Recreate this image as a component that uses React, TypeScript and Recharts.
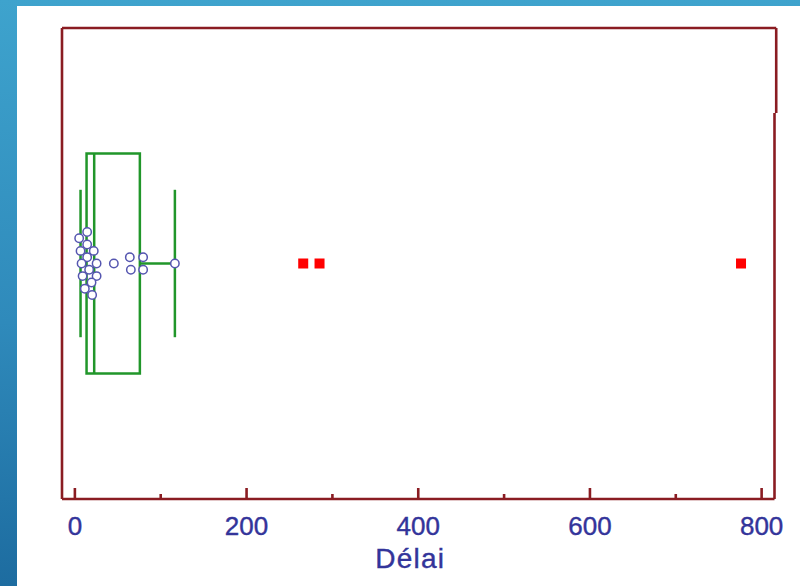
import React from 'react';
import {
  ScatterChart,
  Scatter,
  XAxis,
  YAxis,
  ReferenceLine,
  ReferenceArea,
} from 'recharts';

// Observed delays (one circle each) and their swarm lane (vertical stacking slot)
const delays = [14.3, 5, 14.3, 6.6, 22, 14.3, 7.8, 25.3, 16.6, 9, 25.3, 19.4, 11.6, 20.1, 45.4, 64, 65.2, 79.5, 79.5, 116.5];
const lanes = [-5, -4, -3, -2, -2, -1, 0, 0, 1, 2, 2, 3, 4, 5, 0, -1, 1, -1, 1, 0];

// Far outliers drawn as red squares
const outliers = [266, 285, 776];

// Box-and-whisker summary
const whiskerLow = 6.6;
const quartile1 = 13.6;
const median = 22.5;
const quartile3 = 75.7;
const whiskerHigh = 116.5;

// Axis ticks: labelled every 200, minor marks every 100
const xTicks = [0, 100, 200, 300, 400, 500, 600, 700, 800];
const xDomain = [-15, 815];

const FRAME = '#8a1c22';
const GREEN = '#21962a';
const LABEL = '#33349a';
const FONT = '"Liberation Sans", Arial, Helvetica, sans-serif';

const LANE = 0.0268; // vertical spacing of swarm lanes in y units
const BOX_HALF = 0.467;
const WHISKER_HALF = 0.313;

const swarm = delays.map((v, i) => ({ x: v, y: -lanes[i] * LANE }));
const outlierPoints = outliers.map((v) => ({ x: v, y: 0 }));

const CircleDot = (props: any) => (
  <circle cx={props.cx} cy={props.cy} r={4.2} fill="#ffffff" stroke="#5556b0" strokeWidth={1.5} />
);

const SquareDot = (props: any) => (
  <rect x={props.cx - 5} y={props.cy - 5} width={10} height={10} fill="#ff0000" />
);

const AxisTick = (props: any) => {
  const { x, y, payload } = props;
  const major = payload.value % 200 === 0;
  return (
    <g>
      <line x1={x} x2={x} y1={y} y2={y - (major ? 11 : 5)} stroke={FRAME} strokeWidth={2.6} />
      {major && (
        <text
          x={x}
          y={y + 36}
          textAnchor="middle"
          fill={LABEL}
          stroke={LABEL}
          strokeWidth={0.4}
          fontSize={26}
          fontFamily={FONT}
        >
          {payload.value}
        </text>
      )}
    </g>
  );
};

export default function App() {
  return (
    <div
      style={{
        position: 'absolute',
        left: 0,
        top: 0,
        width: 800,
        height: 586,
        background: 'linear-gradient(to bottom, #3ea3cd 0%, #2f8abb 55%, #1d6ca0 100%)',
        overflow: 'hidden',
      }}
    >
      <div style={{ position: 'absolute', left: 17, top: 6, right: 0, bottom: 0, background: '#ffffff' }} />
      <div style={{ position: 'absolute', left: 0, top: 0 }}>
        <ScatterChart width={800} height={586} margin={{ top: 28, right: 25.5, bottom: 0, left: 62 }}>
          <XAxis
            type="number"
            dataKey="x"
            domain={xDomain}
            ticks={xTicks}
            allowDataOverflow
            height={87}
            tickSize={0}
            tickMargin={0}
            tickLine={false}
            tick={<AxisTick />}
            axisLine={{ stroke: FRAME, strokeWidth: 2.6 }}
            label={{
              value: 'Délai',
              position: 'insideBottom',
              offset: 18,
              dx: -8,
              fill: LABEL,
              stroke: LABEL,
              strokeWidth: 0.4,
              fontSize: 28,
              fontFamily: FONT,
              letterSpacing: 1.2,
            }}
          />
          <YAxis type="number" dataKey="y" domain={[-1, 1]} hide />

          {/* frame: left, top and right edges */}
          <ReferenceLine segment={[{ x: -15, y: -1 }, { x: -15, y: 1 }]} stroke={FRAME} strokeWidth={2.6} ifOverflow="visible" />
          <ReferenceLine segment={[{ x: -15, y: 1 }, { x: 817, y: 1 }]} stroke={FRAME} strokeWidth={2.6} ifOverflow="visible" />
          <ReferenceLine segment={[{ x: 817, y: 1 }, { x: 817, y: 0.639 }]} stroke={FRAME} strokeWidth={2.6} ifOverflow="visible" />
          <ReferenceLine segment={[{ x: 815, y: 0.639 }, { x: 815, y: -1 }]} stroke={FRAME} strokeWidth={2.6} ifOverflow="visible" />

          {/* box and whiskers */}
          <ReferenceArea
            x1={quartile1}
            x2={quartile3}
            y1={-BOX_HALF}
            y2={BOX_HALF}
            fill="none"
            fillOpacity={0}
            stroke={GREEN}
            strokeWidth={2.5}
            ifOverflow="visible"
          />
          <ReferenceLine segment={[{ x: median, y: -BOX_HALF }, { x: median, y: BOX_HALF }]} stroke={GREEN} strokeWidth={2.5} />
          <ReferenceLine segment={[{ x: whiskerLow, y: 0 }, { x: quartile1, y: 0 }]} stroke={GREEN} strokeWidth={2.5} />
          <ReferenceLine segment={[{ x: quartile3, y: 0 }, { x: whiskerHigh, y: 0 }]} stroke={GREEN} strokeWidth={2.5} />
          <ReferenceLine segment={[{ x: whiskerLow, y: -WHISKER_HALF }, { x: whiskerLow, y: WHISKER_HALF }]} stroke={GREEN} strokeWidth={2.5} />
          <ReferenceLine segment={[{ x: whiskerHigh, y: -WHISKER_HALF }, { x: whiskerHigh, y: WHISKER_HALF }]} stroke={GREEN} strokeWidth={2.5} />

          <Scatter data={swarm} shape={<CircleDot />} isAnimationActive={false} />
          <Scatter data={outlierPoints} shape={<SquareDot />} isAnimationActive={false} />
        </ScatterChart>
      </div>
    </div>
  );
}
